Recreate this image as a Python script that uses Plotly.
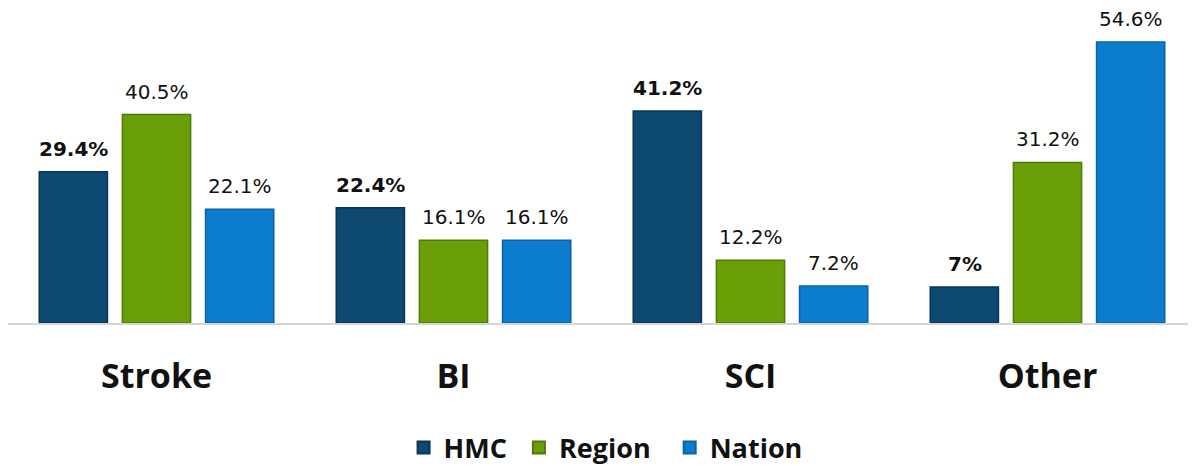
import plotly.graph_objects as go

categories = ["Stroke", "BI", "SCI", "Other"]
hmc = [29.4, 22.4, 41.2, 7]
region = [40.5, 16.1, 12.2, 31.2]
nation = [22.1, 16.1, 7.2, 54.6]
hmc_labels = ["29.4%", "22.4%", "41.2%", "7%"]
region_labels = ["40.5%", "16.1%", "12.2%", "31.2%"]
nation_labels = ["22.1%", "16.1%", "7.2%", "54.6%"]
series_names = ["HMC", "Region", "Nation"]

LBL_FONT = "'DejaVu Sans', sans-serif"
CAT_FONT = "'Open Sans', sans-serif"

series = [
    (series_names[0] + "&nbsp;", hmc, hmc_labels, "#0e4972", "#093556", True, -83),
    (series_names[1] + "&nbsp;&nbsp;", region, region_labels, "#6a9f08", "#4e7a06", False, 0),
    (series_names[2], nation, nation_labels, "#0c7ccf", "#0961a6", False, 83),
]

fig = go.Figure()
annotations = []
for legname, vals, labels, color, edge, bold, xs in series:
    fig.add_trace(go.Bar(
        name=legname, x=categories, y=vals,
        marker=dict(color=color, line=dict(color=edge, width=1.5)),
        cliponaxis=False,
    ))
    for c, v, t in zip(categories, vals, labels):
        annotations.append(dict(
            x=c, y=v, xref="x", yref="y", text=("<b>" + t + "</b>") if bold else t,
            showarrow=False, xshift=xs, yshift=23, yanchor="middle",
            font=dict(size=20, family=LBL_FONT, color="#111111"),
        ))

fig.update_layout(
    width=1188, height=466,
    margin=dict(l=0, r=0, t=10, b=151),
    paper_bgcolor="white", plot_bgcolor="white",
    barmode="group", bargap=0.16, bargroupgap=0.18,
    font=dict(family=CAT_FONT, color="#111111"),
    showlegend=True,
    legend=dict(orientation="h", x=0.503, xanchor="center", y=-0.410, yanchor="middle",
                font=dict(size=27, family=CAT_FONT, color="#111111", weight="bold"),
                itemsizing="constant", traceorder="normal"),
    annotations=annotations,
)
fig.update_xaxes(
    showline=True, linecolor="#d6d6d6", linewidth=2, ticks="",
    tickfont=dict(size=34, family=CAT_FONT, color="#111111", weight="bold"),
    ticklabelstandoff=22, showgrid=False,
)
fig.update_yaxes(visible=False, range=[0, 59.26], showgrid=False)

fig.write_html("out.html")
